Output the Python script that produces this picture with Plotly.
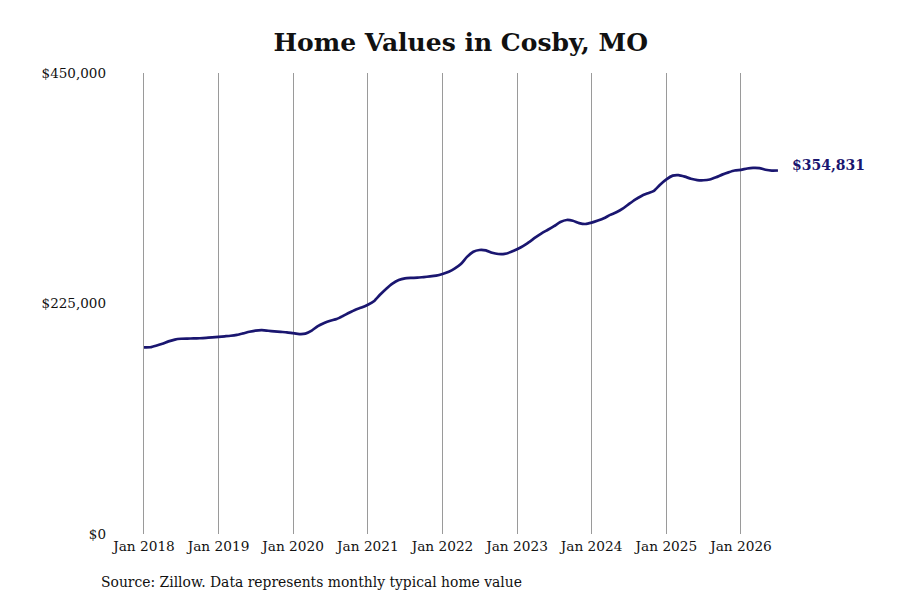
import pandas as pd
import plotly.graph_objects as go

# monthly typical home value, Jan 2018 - Jul 2026
months = pd.date_range("2018-01-01", "2026-07-01", freq="MS")
values = [
    182200, 182300, 183800, 185800, 188000, 189800, 190600, 190800, 190900, 191100, 191400, 191900,
    192500, 193000, 193500, 194400, 195800, 197400, 198600, 199000, 198400, 197800, 197300, 196900,
    196000, 195200, 195600, 198500, 203000, 206000, 208200, 209800, 212800, 216000, 219000, 221000,
    223800, 227500, 233500, 239500, 244500, 248000, 249600, 250000, 250200, 250800, 251400, 252200,
    253800, 256000, 259000, 263500, 270500, 275500, 277200, 276800, 274500, 273300, 273400, 275200,
    277900, 281200, 285000, 289500, 293500, 297000, 300500, 304500, 306500, 305800, 303500, 302600,
    303900, 306000, 308200, 311500, 314000, 317500, 322000, 326500, 330000, 332500, 335000, 341000,
    346200, 349800, 350300, 348800, 346800, 345500, 345300, 346000, 348200, 350800, 353000, 354800,
    355500, 356800, 357400, 357200, 355600, 354700, 354831,
]
ytick_vals = [0, 225000, 450000]
ytick_text = ["$0", "$225,000", "$450,000"]

navy = "#1a1670"
font = "DejaVu Serif"

fig = go.Figure()
fig.add_scatter(x=months, y=values, mode="lines",
                line=dict(color=navy, width=2.7, shape="spline", smoothing=0.6),
                hoverinfo="skip", showlegend=False)

# label at the last point
fig.add_annotation(x=months[-1], y=values[-1], text="<b>$" + format(values[-1], ",") + "</b>",
                   xanchor="left", yanchor="middle", xshift=12, yshift=6, showarrow=False,
                   font=dict(family=font, size=14, color=navy))

fig.add_annotation(x=-0.0119, y=-0.104, xref="paper", yref="paper",
                   text="Source: Zillow. Data represents monthly typical home value",
                   xanchor="left", yanchor="middle", showarrow=False,
                   font=dict(family=font, size=13.9, color="#111"))

fig.update_layout(
    width=900, height=600,
    margin=dict(l=99, r=128, t=65, b=74),
    paper_bgcolor="white", plot_bgcolor="white",
    font=dict(family=font, size=14, color="#111"),
    title=dict(text="<b>Home Values in Cosby, MO</b>", x=0.503, xanchor="center",
               y=1 - 34 / 600, yanchor="middle",
               font=dict(family=font, size=25, color="#111")),
)
fig.update_xaxes(range=["2017-07-04", "2026-07-11"], dtick="M12", tick0="2018-01-01",
                 tickformat="%b %Y", showgrid=True, gridcolor="#9a9a9a", gridwidth=1,
                 showline=False, zeroline=False, ticks="", ticklabelstandoff=2,
                 tickfont=dict(size=13.7))
fig.update_yaxes(range=[0, 450000], tickvals=ytick_vals, ticktext=ytick_text,
                 showgrid=False, zeroline=False, showline=False, ticks="",
                 tickfont=dict(size=13.5))

fig.write_html("out.html")
